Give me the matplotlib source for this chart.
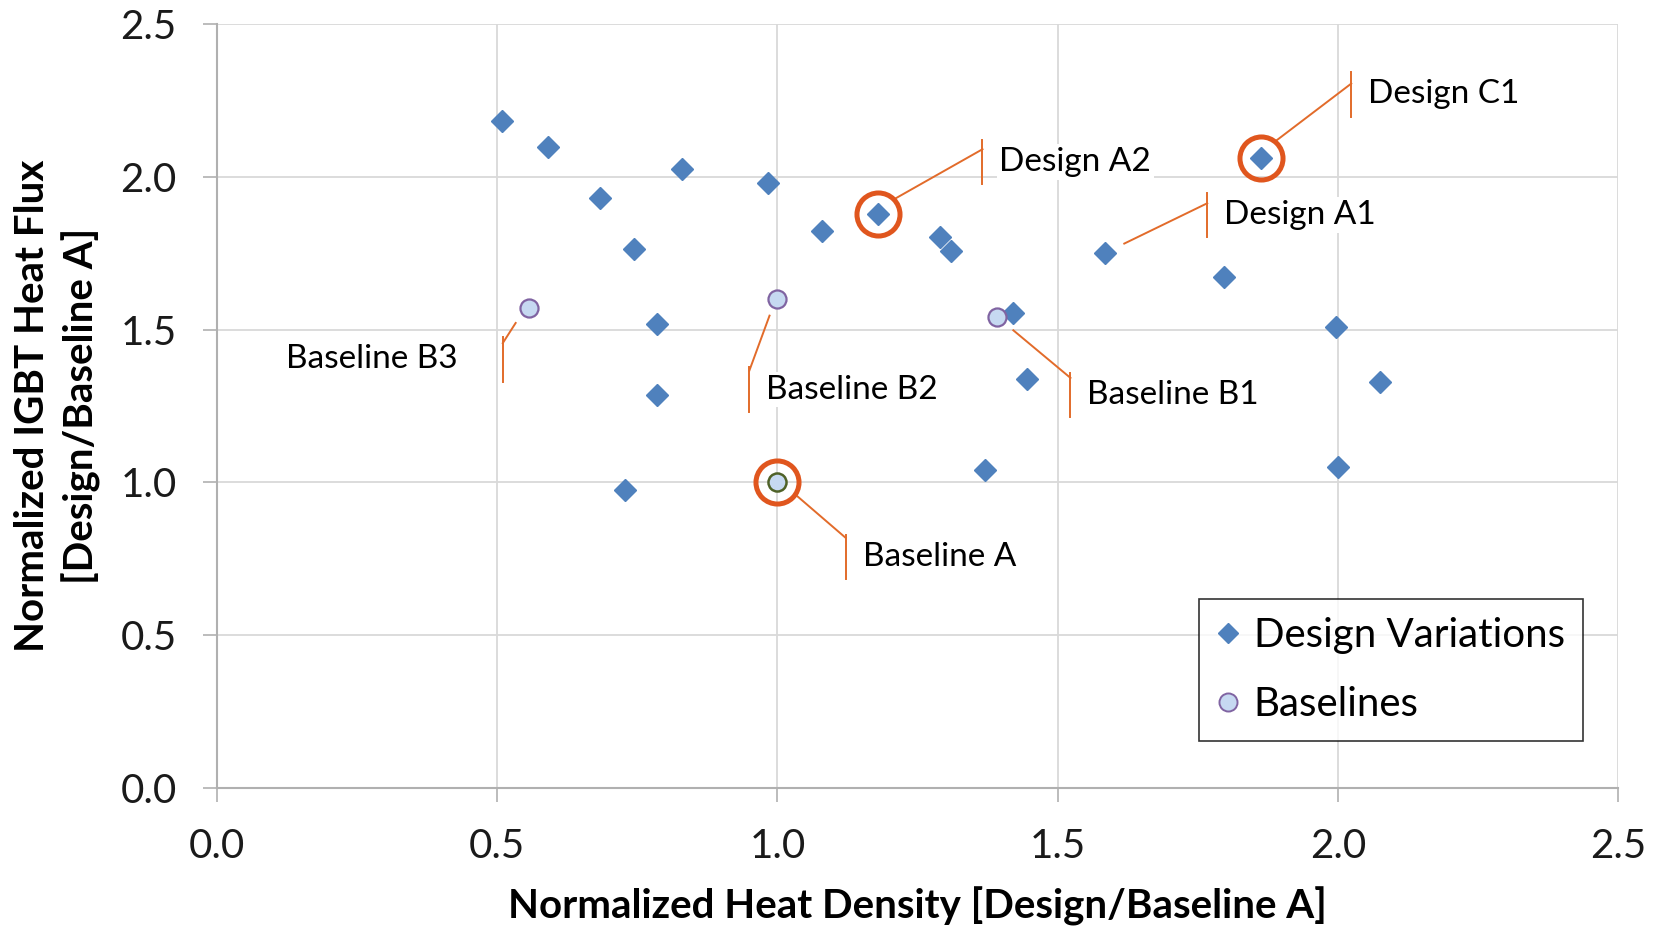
import matplotlib
matplotlib.use("Agg")
import matplotlib.pyplot as plt
from matplotlib.lines import Line2D

# Design variation points (normalized heat density, normalized IGBT heat flux)
design_x = [0.508, 0.590, 0.830, 0.684, 0.983, 0.745, 0.786, 0.786, 0.728, 1.079, 1.179,
            1.291, 1.310, 1.421, 1.446, 1.370, 1.585, 1.797, 1.863, 1.997, 2.075, 2.001]
design_y = [2.184, 2.098, 2.025, 1.931, 1.980, 1.765, 1.519, 1.286, 0.974, 1.824, 1.879,
            1.803, 1.758, 1.553, 1.338, 1.040, 1.751, 1.671, 2.063, 1.508, 1.328, 1.051]

# Baselines: A, B1, B2, B3
base_names = ["Baseline A", "Baseline B1", "Baseline B2", "Baseline B3"]
base_x = [1.000, 1.391, 1.000, 0.556]
base_y = [1.000, 1.540, 1.602, 1.571]

# Highlighted points (circled)
circled_x = [1.179, 1.863, 1.000]
circled_y = [1.879, 2.063, 1.000]

ticks = [0.0, 0.5, 1.0, 1.5, 2.0, 2.5]

# Callout labels: text, line start, bar x / join y, text y, alignment side
callouts = [
    ("Design A2", (1.209, 1.928), (1.366, 2.091), 2.049, "right"),
    ("Design C1", (1.890, 2.119), (2.024, 2.306), 2.271, "right"),
    ("Design A1", (1.619, 1.782), (1.767, 1.914), 1.876, "right"),
    ("Baseline B3", (0.533, 1.522), (0.510, 1.456), 1.403, "left"),
    ("Baseline B2", (0.986, 1.546), (0.950, 1.366), 1.304, "right"),
    ("Baseline B1", (1.421, 1.498), (1.523, 1.342), 1.286, "right"),
    ("Baseline A", (1.034, 0.957), (1.122, 0.818), 0.756, "right"),
]

BLUE = "#4F81BD"
ORANGE = "#E0561E"
LINE_ORANGE = "#E26B2A"
FONT = ["Lato", "DejaVu Sans"]

plt.rcParams["font.family"] = FONT

fig = plt.figure(figsize=(16.6, 9.26), dpi=100)
ax = fig.add_axes([0.1307, 0.1494, 0.8440, 0.8243])

ax.set_xlim(0, 2.5)
ax.set_ylim(0, 2.5)
ax.set_xticks(ticks)
ax.set_yticks(ticks)
ax.set_xticklabels([f"{t:.1f}" for t in ticks])
ax.set_yticklabels([f"{t:.1f}" for t in ticks])
ax.grid(True, color="#D9D9D9", linewidth=1.3)
ax.set_axisbelow(True)
for side in ["top", "right"]:
    ax.spines[side].set_visible(False)
for side in ["left", "bottom"]:
    ax.spines[side].set_color("#B0B0B0")
    ax.spines[side].set_linewidth(1.5)
ax.tick_params(axis="both", length=10, width=1.2, color="#B0B0B0",
               labelsize=29, pad=19, labelcolor="#1a1a1a")

# data
ax.plot(design_x, design_y, linestyle="none", marker="D", markersize=11,
        color=BLUE, zorder=4)
ax.plot(base_x[1:], base_y[1:], linestyle="none", marker="o", markersize=13,
        markerfacecolor="#C6D9F1", markeredgecolor="#8064A2", markeredgewidth=1.6, zorder=4)
ax.plot(base_x[:1], base_y[:1], linestyle="none", marker="o", markersize=13,
        markerfacecolor="#C6D9F1", markeredgecolor="#4F6228", markeredgewidth=1.8, zorder=4)
ax.plot(circled_x, circled_y, linestyle="none", marker="o", markersize=31,
        markerfacecolor="none", markeredgecolor=ORANGE, markeredgewidth=3.6, zorder=5)

# callouts
half_bar = 0.073
for text, (sx, sy), (bx, by), ty, side in callouts:
    ax.plot([sx, bx], [sy, by], color=LINE_ORANGE, linewidth=1.4, zorder=3)
    ax.plot([bx, bx], [ty - half_bar, ty + half_bar], color=LINE_ORANGE,
            linewidth=1.4, zorder=3)
    if side == "right":
        ax.text(bx + 0.03, ty, text, ha="left", va="center", fontsize=24,
                zorder=3, bbox=dict(facecolor="white", edgecolor="none", pad=2))
    else:
        ax.text(bx - 0.08, ty, text, ha="right", va="center", fontsize=24,
                zorder=3, bbox=dict(facecolor="white", edgecolor="none", pad=2))

ax.set_xlabel("Normalized Heat Density [Design/Baseline A]", fontsize=29,
              fontweight="bold", labelpad=16)
ax.set_ylabel("Normalized IGBT Heat Flux\n[Design/Baseline A]", fontsize=29,
              fontweight="bold", labelpad=14, linespacing=1.35)

handles = [
    Line2D([], [], linestyle="none", marker="D", markersize=10, color=BLUE),
    Line2D([], [], linestyle="none", marker="o", markersize=13,
           markerfacecolor="#C6D9F1", markeredgecolor="#8064A2", markeredgewidth=1.4),
]
leg = ax.legend(handles, ["Design Variations", "Baselines"], loc="lower right",
                bbox_to_anchor=(0.975, 0.061), borderaxespad=0, fontsize=29,
                frameon=True, fancybox=False, edgecolor="black", handlelength=0.5,
                handletextpad=0.4, labelspacing=0.8, borderpad=0.45)
leg.get_frame().set_linewidth(1.2)

fig.savefig("out.png", dpi=100)
plt.close(fig)
